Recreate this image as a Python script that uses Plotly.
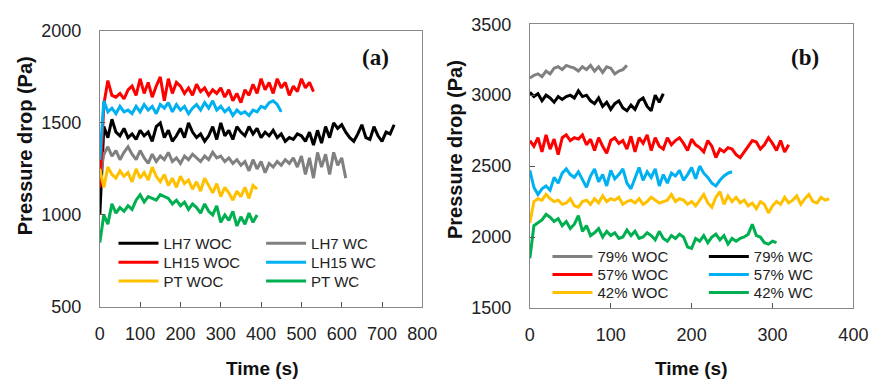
import plotly.graph_objects as go

# ---------------- Data: panel (a) (step 10 s) ----------------
STEP_A = 10
LH7_WOC = [1000, 1480, 1420, 1520, 1450, 1430, 1470, 1420, 1440, 1410, 1460, 1430, 1450, 1400, 1480, 1500,
           1420, 1460, 1400, 1430, 1470, 1420, 1500, 1450, 1420, 1440, 1400, 1430, 1480, 1410, 1500, 1430,
           1460, 1410, 1480, 1450, 1430, 1480, 1440, 1470, 1420, 1450, 1430, 1460, 1420, 1440, 1400, 1420,
           1410, 1440, 1430, 1400, 1450, 1380, 1460, 1390, 1480, 1420, 1500, 1470, 1490, 1450, 1420, 1400,
           1440, 1490, 1420, 1410, 1480, 1430, 1400, 1450, 1440, 1490]
LH7_WC = [1200, 1330, 1370, 1320, 1350, 1300, 1340, 1370, 1330, 1300, 1350, 1310, 1280, 1330, 1290, 1320,
          1300, 1340, 1290, 1310, 1280, 1320, 1300, 1330, 1310, 1290, 1320, 1300, 1340, 1310, 1320, 1290,
          1310, 1280, 1300, 1270, 1290, 1240, 1300, 1250, 1290, 1230, 1280, 1260, 1290, 1270, 1300, 1280,
          1310, 1260, 1320, 1220, 1310, 1200, 1340, 1260, 1330, 1220, 1340, 1270, 1310, 1200]
LH15_WOC = [1150, 1600, 1730, 1650, 1640, 1660, 1630, 1680, 1700, 1650, 1740, 1660, 1720, 1640, 1700, 1750,
            1620, 1740, 1660, 1720, 1700, 1660, 1690, 1650, 1710, 1670, 1690, 1650, 1680, 1660, 1690, 1640,
            1680, 1620, 1660, 1610, 1680, 1650, 1710, 1660, 1740, 1680, 1720, 1660, 1740, 1690, 1720, 1650,
            1700, 1670, 1740, 1690, 1720, 1670]
LH15_WC = [1300, 1620, 1560, 1580, 1550, 1590, 1560, 1570, 1550, 1590, 1560, 1600, 1570, 1590, 1550, 1600,
           1580, 1610, 1560, 1600, 1570, 1590, 1550, 1580, 1600, 1570, 1610, 1580, 1620, 1570, 1590, 1560,
           1580, 1540, 1570, 1550, 1560, 1540, 1570, 1560, 1590, 1580, 1610, 1620, 1600, 1560]
PT_WOC = [1250, 1150, 1260, 1220, 1200, 1240, 1210, 1230, 1180, 1250, 1200, 1230, 1190, 1260, 1210, 1180,
          1220, 1160, 1200, 1150, 1210, 1170, 1190, 1140, 1180, 1130, 1200, 1160, 1120, 1170, 1100, 1150,
          1120, 1080, 1130, 1100, 1150, 1090, 1160, 1140]
PT_WC = [850, 1000, 950, 1060, 1010, 1040, 1020, 1050, 1030, 1080, 1110, 1070, 1100, 1090, 1080, 1110,
         1100, 1090, 1060, 1080, 1050, 1070, 1030, 1060, 1040, 1010, 1060, 1020, 1000, 1050, 960, 1000,
         970, 1020, 940, 990, 950, 1010, 960, 1000]

# ---------------- Data: panel (b) (step 5 s) ----------------
STEP_B = 5
P79_WOC = [3120, 3140, 3150, 3130, 3170, 3150, 3190, 3200, 3180, 3210, 3200, 3190, 3170, 3200, 3180, 3210,
           3170, 3200, 3160, 3200, 3190, 3150, 3170, 3180, 3210]
P79_WC = [3020, 2990, 3010, 2960, 3000, 2980, 2950, 2990, 2970, 2990, 3000, 2980, 3030, 2990, 3000, 2960,
          2940, 2980, 2920, 2950, 2900, 2940, 2960, 2910, 2890, 2930, 2900, 2960, 2980, 2920, 2890, 3000,
          2950, 3010]
P57_WOC = [2680, 2640, 2700, 2600, 2720, 2620, 2690, 2580, 2700, 2720, 2680, 2700, 2690, 2720, 2650, 2690,
           2610, 2700, 2640, 2590, 2680, 2700, 2660, 2680, 2620, 2710, 2600, 2700, 2660, 2720, 2610, 2700,
           2640, 2620, 2700, 2650, 2680, 2700, 2660, 2610, 2690, 2650, 2630, 2600, 2680, 2640, 2560, 2620,
           2600, 2630, 2620, 2580, 2560, 2600, 2640, 2680, 2670, 2620, 2650, 2700, 2660, 2610, 2680, 2600,
           2650]
P57_WC = [2470, 2350, 2300, 2340, 2360, 2330, 2420, 2380, 2450, 2480, 2440, 2420, 2460, 2400, 2350, 2430,
          2480, 2390, 2440, 2360, 2470, 2410, 2440, 2480, 2380, 2340, 2420, 2490, 2400, 2460, 2420, 2480,
          2360, 2440, 2380, 2450, 2430, 2470, 2400, 2440, 2490, 2410, 2500, 2450, 2420, 2380, 2360, 2400,
          2430, 2450, 2460]
P42_WOC = [2100, 2250, 2270, 2260, 2300, 2270, 2250, 2260, 2230, 2240, 2270, 2220, 2210, 2250, 2260, 2230,
           2270, 2240, 2290, 2250, 2270, 2260, 2280, 2230, 2250, 2260, 2240, 2270, 2230, 2250, 2280, 2260,
           2240, 2250, 2260, 2300, 2250, 2270, 2260, 2230, 2250, 2220, 2260, 2300, 2240, 2210, 2280, 2320,
           2230, 2290, 2250, 2280, 2240, 2260, 2220, 2240, 2200, 2250, 2230, 2170, 2220, 2250, 2230, 2280,
           2240, 2260, 2290, 2230, 2270, 2300, 2250, 2240, 2280, 2260, 2270]
P42_WC = [1850, 2080, 2100, 2120, 2160, 2140, 2110, 2130, 2080, 2110, 2060, 2090, 2150, 2040, 2080, 2010,
          2030, 2060, 2000, 2040, 2010, 2030, 1990, 2000, 2050, 2010, 2040, 1990, 2000, 2030, 2010, 1980,
          2040, 1990, 1970, 2010, 1990, 2020, 2000, 1930, 1920, 1990, 1970, 2010, 1960, 2000, 2020, 1980,
          2010, 1950, 1990, 1970, 1990, 2000, 2020, 2090, 2010, 2000, 1960, 1950, 1970, 1960]

X_TICKS_A = [0, 100, 200, 300, 400, 500, 600, 700, 800]
Y_TICKS_A = [500, 1000, 1500, 2000]
X_TICKS_B = [0, 100, 200, 300, 400]
Y_TICKS_B = [1500, 2000, 2500, 3000, 3500]

BLACK, GREY, RED, BLUE, YELLOW, GREEN = "#000000", "#808080", "#FF0000", "#00B0F0", "#FFC000", "#00B050"

W, H = 885, 391
def px(x): return x / W
def py(y): return 1 - y / H

# series: (name, values, step, color, panel, legend pixel pos (line start x, row y))
SERIES = [
    ("LH7 WOC", LH7_WOC, STEP_A, BLACK, "a", 116, 246),
    ("LH7 WC", LH7_WC, STEP_A, GREY, "a", 267, 246),
    ("LH15 WOC", LH15_WOC, STEP_A, RED, "a", 116, 266),
    ("LH15 WC", LH15_WC, STEP_A, BLUE, "a", 267, 266),
    ("PT WOC", PT_WOC, STEP_A, YELLOW, "a", 116, 286),
    ("PT WC", PT_WC, STEP_A, GREEN, "a", 267, 286),
    ("79% WOC", P79_WOC, STEP_B, GREY, "b", 560, 260),
    ("79% WC", P79_WC, STEP_B, BLACK, "b", 720, 260),
    ("57% WOC", P57_WOC, STEP_B, RED, "b", 560, 279),
    ("57% WC", P57_WC, STEP_B, BLUE, "b", 720, 279),
    ("42% WOC", P42_WOC, STEP_B, YELLOW, "b", 560, 298),
    ("42% WC", P42_WC, STEP_B, GREEN, "b", 720, 298),
]

FONT = "Liberation Sans, Arial, sans-serif"
fig = go.Figure()
legends = {}
for i, (name, vals, step, color, panel, lx, ly) in enumerate(SERIES):
    lid = "legend" if i == 0 else f"legend{i+1}"
    t = [k * step for k in range(len(vals))]
    fig.add_trace(go.Scatter(
        x=t, y=vals, mode="lines", name=name,
        line=dict(color=color, width=3),
        xaxis="x" if panel == "a" else "x2",
        yaxis="y" if panel == "a" else "y2",
        legend=lid, showlegend=True,
    ))
    legends[lid] = dict(
        x=px(lx - 5), y=py(ly), xanchor="left", yanchor="middle",
        bgcolor="rgba(0,0,0,0)", borderwidth=0,
        font=dict(family=FONT, size=15, color="#222"),
        itemwidth=40, tracegroupgap=0,
    )

axis_common = dict(
    showgrid=False, zeroline=False, showline=True, linecolor="#888", linewidth=1,
    mirror=True, ticks="inside", ticklen=5, tickcolor="#555",
    tickfont=dict(family=FONT, size=18, color="#222"),
)

fig.update_layout(
    width=W, height=H, margin=dict(l=0, r=0, t=0, b=0),
    paper_bgcolor="white", plot_bgcolor="white",
    xaxis=dict(domain=[px(97), px(427)], range=[0, 800], tickvals=X_TICKS_A, anchor="y",
               ticklabelstandoff=10, **axis_common),
    yaxis=dict(domain=[py(313), py(22)], range=[500, 2000], tickvals=Y_TICKS_A, anchor="x",
               ticklabelstandoff=14, **axis_common),
    xaxis2=dict(domain=[px(537), px(868)], range=[0, 400], tickvals=X_TICKS_B, anchor="y2",
                ticklabelstandoff=10, **axis_common),
    yaxis2=dict(domain=[py(314), py(15)], range=[1500, 3500], tickvals=Y_TICKS_B, anchor="x2",
                ticklabelstandoff=14, **axis_common),
    showlegend=True,
    **legends,
)

ann = [
    dict(text="<b>Time (s)</b>", x=px(263), y=py(378), font=dict(size=19)),
    dict(text="<b>Time (s)</b>", x=px(702), y=py(378), font=dict(size=19)),
    dict(text="<b>Pressure drop (Pa)</b>", x=px(20), y=py(143), textangle=-90, font=dict(size=20)),
    dict(text="<b>Pressure drop (Pa)</b>", x=px(461), y=py(147), textangle=-90, font=dict(size=20)),
]
for a in ann:
    a["font"].update(family=FONT, color="#111")
    fig.add_annotation(xref="paper", yref="paper", showarrow=False, xanchor="center", yanchor="middle", **a)

for label, xc in (("(a)", 379), ("(b)", 819)):
    fig.add_annotation(text=f"<b>{label}</b>", xref="paper", yref="paper", x=px(xc), y=py(50),
                       showarrow=False, xanchor="center", yanchor="middle",
                       font=dict(family="Liberation Serif, Times New Roman, serif", size=23, color="#111"))

fig.write_html("out.html")
